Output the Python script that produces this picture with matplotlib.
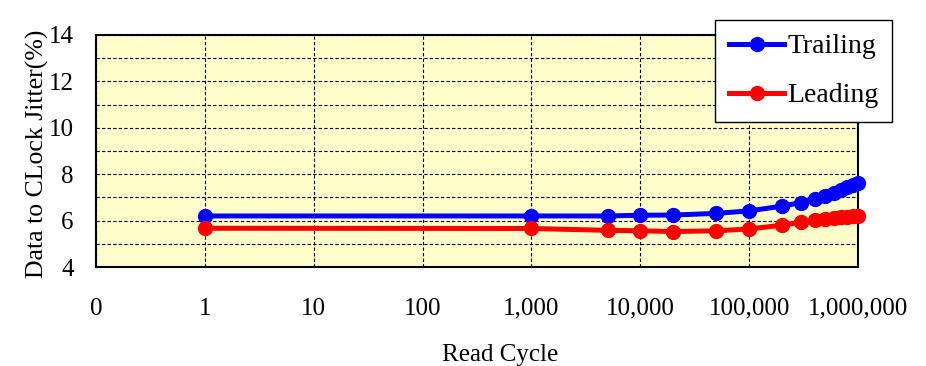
import matplotlib
matplotlib.use("Agg")
import matplotlib.pyplot as plt
from matplotlib.ticker import FixedLocator, FixedFormatter, NullLocator

# read-cycle sweep and measured jitter (%)
cycles = [1, 1000, 5000, 10000, 20000, 50000, 100000, 200000, 300000,
          400000, 500000, 600000, 700000, 800000, 900000, 1000000]
trailing = [6.20, 6.20, 6.20, 6.23, 6.24, 6.31, 6.42, 6.62, 6.78,
            6.93, 7.07, 7.20, 7.32, 7.43, 7.54, 7.64]
leading = [5.67, 5.66, 5.58, 5.56, 5.53, 5.56, 5.64, 5.80, 5.94,
           6.03, 6.08, 6.11, 6.14, 6.17, 6.19, 6.21]

x_ticks = [0.1, 1, 10, 100, 1000, 10000, 100000, 1000000]
x_tick_labels = ["0", "1", "10", "100", "1,000", "10,000", "100,000", "1,000,000"]
y_ticks = [4, 6, 8, 10, 12, 14]

plt.rcParams["font.family"] = ["Liberation Serif", "DejaVu Serif"]
plt.rcParams["font.size"] = 18

fig = plt.figure(figsize=(9.26, 3.66), dpi=100)
ax = fig.add_axes([96 / 926, 99 / 366, 762 / 926, 232 / 366])
ax.set_facecolor("#FFFFCC")

ax.plot(cycles, trailing, color="#0000FF", marker="o", markersize=10,
        linewidth=3.6, label="Trailing", zorder=3, clip_on=False)
ax.plot(cycles, leading, color="#FF0000", marker="o", markersize=10,
        linewidth=3.6, label="Leading", zorder=3, clip_on=False)

ax.set_xscale("log")
ax.set_xlim(0.1, 1000000)
ax.set_ylim(4, 14)
ax.xaxis.set_major_locator(FixedLocator(x_ticks))
ax.xaxis.set_major_formatter(FixedFormatter(x_tick_labels))
ax.xaxis.set_minor_locator(NullLocator())
ax.set_yticks(y_ticks)
ax.set_yticks([5, 7, 9, 11, 13], minor=True)

grid_style = dict(color="black", linestyle=(0, (3, 2)), linewidth=0.8)
ax.grid(True, which="major", axis="both", **grid_style)
ax.grid(True, which="minor", axis="y", **grid_style)
ax.set_axisbelow(True)

ax.tick_params(axis="both", which="both", length=0)
ax.tick_params(axis="y", pad=16)
ax.tick_params(axis="x", pad=22)

for side in ["left", "bottom", "top", "right"]:
    ax.spines[side].set_color("black")
    ax.spines[side].set_linewidth(1.5)

ax.set_xlabel("Read Cycle")
ax.xaxis.set_label_coords(0.531, -0.33)
ax.set_ylabel("Data to CLock Jitter(%)", fontsize=18.5)
ax.yaxis.set_label_coords(-0.062, 0.49)

leg = fig.legend(loc="upper left", bbox_to_anchor=(715 / 926, 1 - 20 / 366),
                 borderaxespad=0, fancybox=False, framealpha=1,
                 edgecolor="black", fontsize=20, handlelength=2.0,
                 handletextpad=0.1, labelspacing=0.85, borderpad=0.5)
leg.get_frame().set_linewidth(1.0)

fig.savefig("out.png", dpi=100)
plt.close(fig)
